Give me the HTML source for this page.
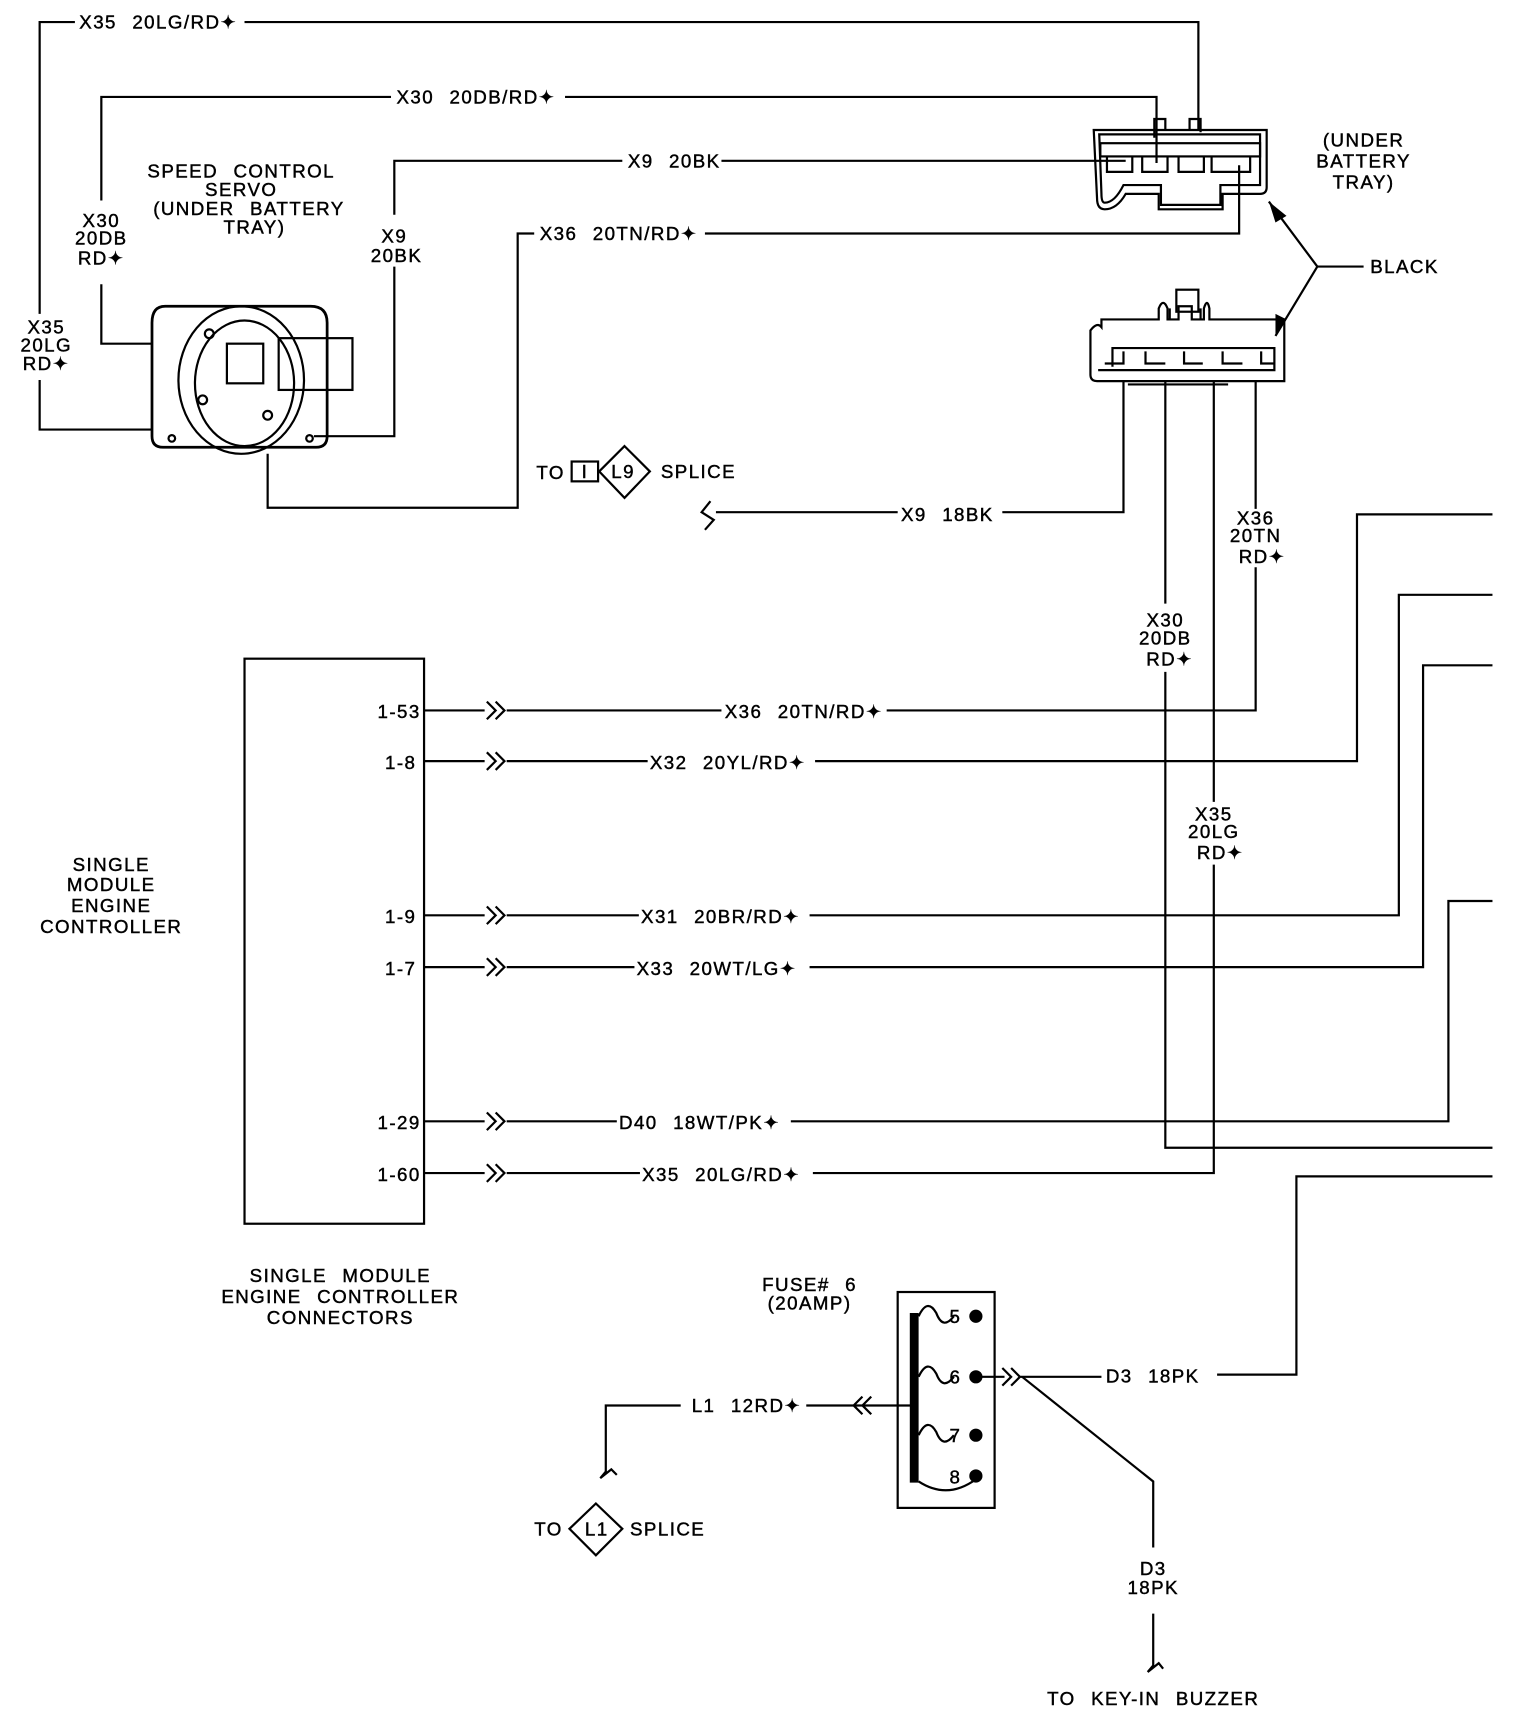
<!DOCTYPE html>
<html><head><meta charset="utf-8"><style>
html,body{margin:0;padding:0;background:#fff;}
svg{display:block;}
text{font-family:"Liberation Sans Narrow","Liberation Sans",sans-serif;font-size:17px;fill:#000;letter-spacing:1.3px;word-spacing:8px;stroke:#000;stroke-width:0.4px;}
</style></head><body>
<svg width="1520" height="1726" viewBox="0 0 1380 1567" xmlns="http://www.w3.org/2000/svg">
<g fill="none" stroke="#000" stroke-width="2">
<path d="M138,390 H36 V345 M36,285 V20 H68 M222,20 H1088 V118"/>
<path d="M138,312 H92 V258 M92,182 V88 H355 M513,88 H1050 V148"/>
<path d="M285,396 H358 V242 M358,195 V146 H565 M655,146 H1022"/>
<path d="M243,412 V461 H470 V212 H485 M640,212 H1125 V150"/>
<path d="M150,278 H282 Q297,278 297,293 V396 Q297,406 287,406 H148 Q138,406 138,396 V293 Q138,278 150,278 Z" stroke-width="2.5"/>
<ellipse cx="219" cy="345" rx="57" ry="67" />
<ellipse cx="222" cy="348" rx="45" ry="57" />
<rect x="206" y="312" width="33" height="36"/>
<rect x="253" y="307" width="67" height="47"/>
<circle cx="156" cy="398" r="3"/><circle cx="281" cy="398" r="3"/>
<circle cx="190" cy="303" r="4"/><circle cx="184" cy="363" r="4"/><circle cx="243" cy="377" r="4"/>
<path d="M993,118 H1150 V170 Q1150,176 1144,176 H1110 V190 H1052 V176 H1022 Q1014,190 1003,190 Q996,190 996,180 Z"/>
<path d="M998,122 H1144 V168 H1108 V186 H1054 V168 H1020 Q1012,184 1003,184 Q1000,184 1000,176 Z"/>
<rect x="999" y="130" width="145" height="12"/>
<path d="M1005,142 V156 H1028 V142 M1037,142 V156 H1060 V142 M1070,142 V156 H1093 V142 M1100,142 V156 H1135 V142"/>
<path d="M1048,125 V108 H1058 V118 M1080,118 V108 H1090 V120"/>
<path d="M990,300 V340 Q990,346 996,346 H1166 V290 H1098 V280 Q1096,270 1093,280 V290 H1082 V278 H1070 V290 H1060 V280 Q1056,270 1052,280 V290 H1000 V297 Q996,292 990,300 Z"/>
<path d="M1062,290 V280 M1090,290 V280"/>
<rect x="1068" y="263" width="20" height="20"/>
<path d="M997,336 H1157 V316 H1010 V333"/>
<path d="M1024,349 H1115"/>
<path d="M1003,330 H1020 V319 M1040,319 V330 H1058 M1075,319 V330 H1092 M1110,319 V330 H1128 M1145,319 V330 H1157"/>
<path d="M1196,242 L1152,183 M1196,242 L1158,305 M1196,242 H1238"/>
<path d="M1020,346 V465 H910 M815,465 H650"/>
<path d="M1058,346 V548 M1058,610 V1042 H1355"/>
<path d="M1102,346 V728 M1102,785 V1065 H738"/>
<path d="M1140,346 V462 M1140,515 V645 H805"/>
<path d="M645,455 L637,465 L648,472 L640,481"/>
<rect x="519" y="419" width="24" height="18"/>
<path d="M567,405 L590,428 L567,452 L544,428 Z"/>
<rect x="222" y="598" width="163" height="513"/>
<path d="M385,645 H440 M460,645 H655 M385,691 H440 M460,691 H588 M740,691 H1232 V467 H1355
M385,831 H440 M460,831 H580 M735,831 H1270 V540 H1355
M385,878 H440 M460,878 H576 M735,878 H1292 V604 H1355
M385,1018 H440 M460,1018 H560 M718,1018 H1315 V818 H1355
M385,1065 H440 M460,1065 H581"/>
<path d="M442,637 L450,645 L442,653 M450,637 L458,645 L450,653 M442,683 L450,691 L442,699 M450,683 L458,691 L450,699 M442,823 L450,831 L442,839 M450,823 L458,831 L450,839 M442,870 L450,878 L442,886 M450,870 L458,878 L450,886 M442,1010 L450,1018 L442,1026 M450,1010 L458,1018 L450,1026 M442,1057 L450,1065 L442,1073 M450,1057 L458,1065 L450,1073"/>
<path d="M1105,1248 H1177 V1068 H1355"/>
<rect x="815" y="1173" width="88" height="196"/>
<path d="M830,1276 H778 M783,1268 L775,1276 L783,1284 M791,1268 L783,1276 L791,1284 M778,1276 H732"/>
<path d="M834,1195 Q842,1178 850,1192 Q856,1208 866,1195 M834,1250 Q842,1233 850,1247 Q856,1263 866,1250 M834,1303 Q842,1286 850,1300 Q856,1316 866,1303 M834,1345 Q860,1362 886,1343"/>
<path d="M886,1250 H912 M910,1242 L918,1250 L910,1258 M918,1242 L926,1250 L918,1258 M926,1250 H1000"/>
<path d="M928,1250 L1047,1345 V1405 M1047,1465 V1512 L1042,1518 L1052,1510 L1056,1515"/>
<path d="M618,1276 H550 V1336 L545,1342 L555,1334 L560,1339"/>
<path d="M541,1365 L565,1388 L541,1412 L517,1388 Z"/>
</g>
<line x1="830" y1="1192" x2="830" y2="1346" stroke="#000" stroke-width="8"/>
<g fill="#000"><circle cx="886" cy="1195" r="6"/><circle cx="886" cy="1250" r="6"/><circle cx="886" cy="1303" r="6"/><circle cx="886" cy="1340" r="6"/>
<path d="M1152,183 L1168,196 L1158,202 Z"/><path d="M1158,305 L1158,285 L1168,290 Z"/></g>
<g>
<text x="72" y="26">X35 20LG/RD✦</text>
<text x="360" y="94">X30 20DB/RD✦</text>
<text x="570" y="152">X9 20BK</text>
<text x="490" y="218">X36 20TN/RD✦</text>
<g text-anchor="middle">
<text x="219" y="161">SPEED CONTROL</text><text x="219" y="178">SERVO</text><text x="226" y="195">(UNDER BATTERY</text><text x="231" y="212">TRAY)</text>
<text x="92" y="206">X30</text><text x="92" y="222">20DB</text><text x="92" y="240">RD✦</text>
<text x="358" y="220">X9</text><text x="360" y="238">20BK</text>
<text x="42" y="303">X35</text><text x="42" y="319">20LG</text><text x="42" y="336">RD✦</text>
<text x="1238" y="133">(UNDER</text><text x="1238" y="152">BATTERY</text><text x="1238" y="171">TRAY)</text>
<text x="1140" y="476">X36</text><text x="1140" y="492">20TN</text><text x="1146" y="511">RD✦</text>
<text x="1058" y="569">X30</text><text x="1058" y="585">20DB</text><text x="1062" y="604">RD✦</text>
<text x="1102" y="745">X35</text><text x="1102" y="761">20LG</text><text x="1108" y="780">RD✦</text>
<text x="101" y="791">SINGLE</text><text x="101" y="809">MODULE</text><text x="101" y="828">ENGINE</text><text x="101" y="847">CONTROLLER</text>
<text x="309" y="1164">SINGLE MODULE</text><text x="309" y="1183">ENGINE CONTROLLER</text><text x="309" y="1202">CONNECTORS</text>
<text x="735" y="1172">FUSE# 6</text><text x="735" y="1189">(20AMP)</text>
<text x="1047" y="1430">D3</text><text x="1047" y="1447">18PK</text>
<text x="1047" y="1548">TO KEY-IN BUZZER</text>
</g>
<text x="1244" y="248">BLACK</text>
<text x="487" y="435">TO</text><text x="528" y="434" font-size="14">I</text><text x="555" y="434">L9</text><text x="600" y="434">SPLICE</text>
<text x="818" y="473">X9 18BK</text>
<g text-anchor="end">
<text x="382" y="652">1-53</text><text x="378" y="698">1-8</text><text x="378" y="838">1-9</text><text x="378" y="885">1-7</text><text x="382" y="1025">1-29</text><text x="382" y="1072">1-60</text>
</g>
<text x="658" y="652">X36 20TN/RD✦</text>
<text x="590" y="698">X32 20YL/RD✦</text>
<text x="582" y="838">X31 20BR/RD✦</text>
<text x="578" y="885">X33 20WT/LG✦</text>
<text x="562" y="1025">D40 18WT/PK✦</text>
<text x="583" y="1072">X35 20LG/RD✦</text>
<text x="862" y="1201" font-size="16">5</text><text x="862" y="1256" font-size="16">6</text><text x="862" y="1309" font-size="16">7</text><text x="862" y="1347" font-size="16">8</text>
<text x="628" y="1282">L1 12RD✦</text>
<text x="1004" y="1255">D3 18PK</text>
<text x="485" y="1394">TO</text><text x="531" y="1394">L1</text><text x="572" y="1394">SPLICE</text>
</g>
</svg>
</body></html>
